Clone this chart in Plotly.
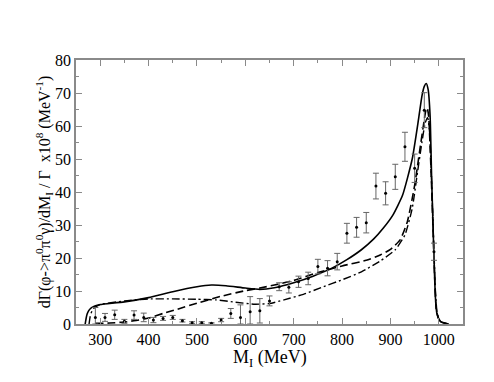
import plotly.graph_objects as go

# data points with error bars
data_x = [290, 310, 330, 350, 370, 390, 410, 430, 450, 470, 490, 510, 530, 550,
          570, 590, 610, 630, 650, 670, 690, 710, 730, 750, 770, 790, 810, 830,
          850, 870, 890, 910, 930, 950, 970, 990]
data_y = [2.0, 2.0, 2.8, 0.8, 2.7, 2.0, 1.2, 1.7, 2.0, 1.0, 0.4, 0.4, 0.2, 1.2,
          3.2, 2.0, 3.7, 4.0, 7.0, 11.3, 11.1, 12.8, 13.8, 17.4, 16.9, 18.9, 27.5, 29.3,
          30.7, 41.8, 39.6, 44.6, 53.7, 47.2, 64.8, 21.9]
err_up = [3.0, 1.2, 1.4, 0.6, 1.3, 1.3, 0.8, 0.6, 0.6, 0.4, 0.3, 0.3, 0.2, 0.5,
          1.5, 3.8, 4.6, 3.7, 1.5, 1.2, 1.7, 1.7, 1.9, 2.2, 2.3, 2.5, 3.0, 3.0,
          3.1, 3.9, 3.5, 3.8, 4.4, 4.3, 5.3, 2.6]
err_down = [2.0, 1.2, 1.4, 0.6, 1.3, 1.3, 0.8, 0.6, 0.6, 0.4, 0.3, 0.3, 0.2, 0.5,
            1.5, 2.0, 3.7, 3.7, 1.5, 1.2, 1.7, 1.7, 1.9, 2.2, 2.3, 2.5, 3.0, 3.0,
            3.1, 3.9, 3.5, 3.8, 4.4, 4.3, 5.3, 2.6]

# solid curve
solid_x = [269, 271, 273, 276, 280, 285, 292, 300, 350, 400, 450, 500, 530, 560,
           600, 630, 660, 700, 740, 780, 810, 840, 865, 885, 905, 925, 945, 958, 965,
           970, 974, 978, 982, 985, 988, 990, 993, 996, 1000, 1005, 1020]
solid_y = [0, 1.8, 3.0, 4.0, 4.7, 5.2, 5.6, 5.9, 6.7, 8.0, 9.8, 11.3, 11.8, 11.6,
           10.9, 10.5, 11.0, 12.5, 14.5, 17.0, 19.5, 22.5, 25.7, 29.0, 33.0, 39.0, 50, 62, 69,
           72, 72.9, 71, 63, 45, 30, 20, 8, 3.2, 1.5, 0.6, 0]

# dashed curve
dash_x = [290, 320, 350, 380, 400, 430, 460, 500, 550, 600, 630, 660, 700, 750,
          800, 850, 880, 900, 920, 935, 950, 960, 968, 973, 976, 979, 983, 986,
          989, 992, 995, 1000, 1005, 1020]
dash_y = [0.2, 0.3, 0.6, 1.2, 1.8, 3.2, 4.5, 6.3, 8.4, 10.1, 10.9, 11.8, 13.2, 15.6,
          17.6, 19.3, 21, 22.6, 25.5, 31, 42, 52, 60, 64.5, 65.5, 63, 50, 38,
          25, 12, 4, 1.5, 0.6, 0]

# dash-dot curve
dd_x = [277, 279, 281, 284, 288, 294, 300, 350, 400, 450, 500, 540, 580, 620,
        650, 680, 720, 760, 800, 840, 880, 910, 930, 945, 955, 965, 972, 977,
        981, 984, 987, 990, 993, 996, 1000, 1005, 1020]
dd_y = [0, 2.0, 3.2, 4.2, 4.9, 5.5, 5.9, 7.0, 7.6, 7.6, 7.5, 7.3, 6.6, 6.0,
        6.2, 7.3, 9.0, 11.2, 13.4, 15.8, 19.2, 22.5, 27, 35, 45, 55, 61, 62.5,
        58, 48, 35, 22, 10, 4, 1.5, 0.6, 0]

serif = "Liberation Serif, Times New Roman, serif"
grey = "#8a8a8a"

fig = go.Figure()

fig.add_trace(go.Scatter(
    x=solid_x, y=solid_y, mode="lines",
    line=dict(color="black", width=1.6, shape="spline", smoothing=0.5),
))
fig.add_trace(go.Scatter(
    x=dash_x, y=dash_y, mode="lines",
    line=dict(color="black", width=1.6, dash="8px,4px", shape="spline", smoothing=0.5),
))
fig.add_trace(go.Scatter(
    x=dd_x, y=dd_y, mode="lines",
    line=dict(color="black", width=1.4, dash="8px,3px,2px,3px", shape="spline", smoothing=0.5),
))
fig.add_trace(go.Scatter(
    x=data_x, y=data_y, mode="markers",
    marker=dict(color="black", size=3),
    error_y=dict(type="data", array=err_up, arrayminus=err_down,
                 color="#666666", thickness=1, width=3),
))

axis_common = dict(
    showline=True, linecolor=grey, linewidth=1.5, mirror="ticks",
    ticks="inside", ticklen=6, tickcolor=grey, tickwidth=1,
    showgrid=False, zeroline=False, automargin=False,
    tickfont=dict(family=serif, size=16, color="black"),
)

fig.update_xaxes(
    range=[250, 1050], dtick=100, tick0=0,
    minor=dict(ticks="inside", ticklen=3, dtick=50, tickcolor=grey),
    **axis_common,
)
fig.update_yaxes(
    range=[0, 80], dtick=10,
    minor=dict(ticks="inside", ticklen=3, dtick=5, tickcolor=grey),
    title=dict(text="dΓ(φ->π<sup>0</sup>π<sup>0</sup>γ)/dM<sub>I</sub> / Γ  x10<sup>8</sup> (MeV<sup>-1</sup>)",
               font=dict(family=serif, size=16, color="black"), standoff=0),
    **axis_common,
)

# x title sits closer to the tick labels than plotly's own title would
fig.add_annotation(
    text="M<sub>I</sub> (MeV)", xref="paper", yref="paper", x=0.5, y=-0.13,
    xanchor="center", yanchor="middle", showarrow=False,
    font=dict(family=serif, size=18, color="black"),
)

# the page body adds 8px, so the figure is 8px smaller than the window
fig.update_layout(
    width=486, height=374,
    margin=dict(l=68, r=31, t=52, b=58),
    paper_bgcolor="white", plot_bgcolor="white",
    showlegend=False,
)

fig.write_html("out.html")
